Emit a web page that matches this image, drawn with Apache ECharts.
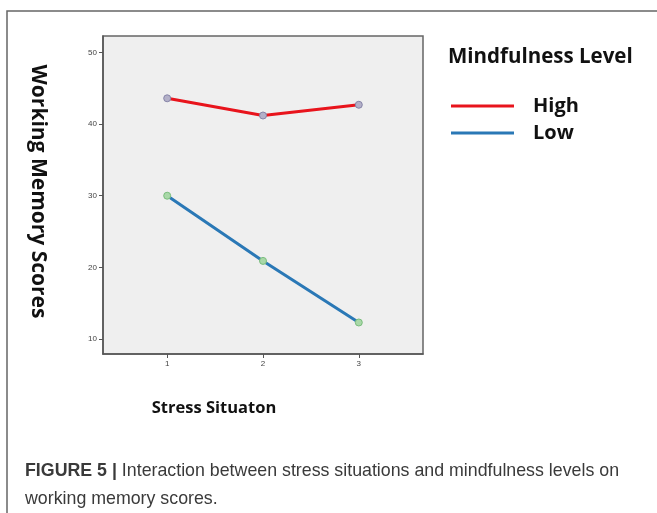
<!DOCTYPE html>
<html>
<head>
<meta charset="utf-8">
<script src="https://cdn.jsdelivr.net/npm/echarts@6/dist/echarts.min.js"></script>
<style>
  html, body { margin: 0; padding: 0; background: #fff; }
  #chart { width: 657px; height: 513px; }
</style>
</head>
<body>
<div id="chart"></div>
<script>
// stress situation levels (x) and mean scores per mindfulness level
const situations = [1, 2, 3];
const yTicks = [10, 20, 30, 40, 50];
const highScores = [43.6, 41.2, 42.7];
const lowScores = [30.0, 20.9, 12.3];
const seriesNames = ['High', 'Low'];
const lineColors = ['#e8141c', '#2a78b6'];
const captionBold = 'FIGURE 5 |';
const captionLine1 = ' Interaction between stress situations and mindfulness levels on';
const captionLine2 = 'working memory scores.';

const chart = echarts.init(document.getElementById('chart'), null, { renderer: 'canvas' });

const boldFont = '"Open Sans", "Noto Sans", sans-serif';

chart.setOption({
    animation: false,
    backgroundColor: '#fff',
    grid: {
        left: 103,
        top: 36,
        width: 320,
        height: 318,
        show: true,
        backgroundColor: '#efefef',
        borderColor: '#666',
        borderWidth: 1.5
    },
    legend: {
        data: seriesNames.map((n, i) => ({
            name: n,
            itemStyle: { color: lineColors[i], borderWidth: 0 }
        })),
        orient: 'vertical',
        left: 446,
        top: 91,
        itemWidth: 63,
        itemHeight: 3,
        itemGap: 7,
        icon: 'rect',
        textStyle: {
            fontFamily: boldFont,
            fontWeight: 'bold',
            fontSize: 20,
            color: '#111',
            padding: [0, 0, 0, 14]
        }
    },
    title: {
        text: 'Mindfulness Level',
        left: 443,
        top: 42,
        textStyle: {
            fontFamily: boldFont,
            fontWeight: 'bold',
            fontSize: 20.5,
            color: '#111'
        }
    },
    xAxis: {
        type: 'value',
        min: 0.33,
        max: 3.67,
        name: 'Stress Situaton',
        nameLocation: 'middle',
        nameGap: 46,
        nameTextStyle: {
            fontFamily: boldFont,
            fontWeight: 'bold',
            fontSize: 16.5,
            color: '#111',
            padding: [0, 98, 0, 0]
        },
        axisLine: { show: true, lineStyle: { color: '#555', width: 1.5 } },
        axisTick: { show: true, length: 4, customValues: situations, lineStyle: { color: '#555' } },
        axisLabel: { customValues: situations, fontSize: 8, color: '#444', margin: 6 },
        splitLine: { show: false }
    },
    yAxis: {
        type: 'value',
        min: 7.9,
        max: 52.3,
        name: 'Working Memory Scores',
        nameLocation: 'middle',
        nameRotate: -90,
        nameGap: 55,
        nameTextStyle: {
            fontFamily: boldFont,
            fontWeight: 'bold',
            fontSize: 21,
            color: '#111',
            padding: [0, 7, 0, 0]
        },
        axisLine: { show: true, lineStyle: { color: '#555', width: 1.5 } },
        axisTick: { show: true, length: 4, customValues: yTicks, lineStyle: { color: '#555' } },
        axisLabel: { customValues: yTicks, fontSize: 8, color: '#444', margin: 6 },
        splitLine: { show: false }
    },
    series: [
        {
            name: seriesNames[0],
            type: 'line',
            data: situations.map((s, i) => [s, highScores[i]]),
            color: lineColors[0],
            lineStyle: { width: 3, color: lineColors[0] },
            symbol: 'circle',
            symbolSize: 7,
            itemStyle: { color: '#b3b0c8', borderColor: '#8684a8', borderWidth: 1 }
        },
        {
            name: seriesNames[1],
            type: 'line',
            data: situations.map((s, i) => [s, lowScores[i]]),
            color: lineColors[1],
            lineStyle: { width: 3, color: lineColors[1] },
            symbol: 'circle',
            symbolSize: 7,
            itemStyle: { color: '#a9d8a8', borderColor: '#79bd7c', borderWidth: 1 }
        }
    ],
    graphic: [
        {
            type: 'polyline',
            shape: { points: [[7, 513], [7, 11], [657, 11]] },
            style: { stroke: '#666', lineWidth: 1.5, fill: null },
            silent: true
        },
        {
            type: 'text',
            left: 25,
            top: 457,
            style: {
                text: '{b|' + captionBold + '}' + captionLine1 + '\n' + captionLine2,
                fontFamily: '"Liberation Sans", Arial, sans-serif',
                fontSize: 17.8,
                lineHeight: 28,
                fill: '#3a3a3a',
                rich: {
                    b: {
                        fontFamily: '"Liberation Sans", Arial, sans-serif',
                        fontWeight: 'bold',
                        fontSize: 17.8,
                        lineHeight: 28,
                        fill: '#3a3a3a'
                    }
                }
            }
        }
    ]
});
</script>
</body>
</html>
